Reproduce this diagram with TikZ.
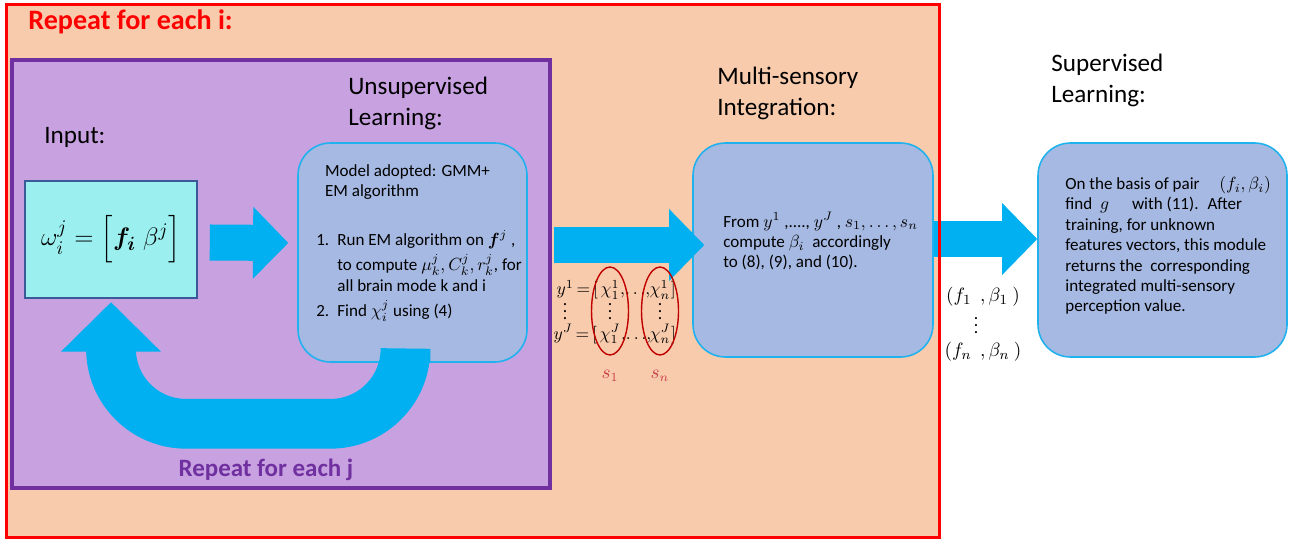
\documentclass[tikz,border=0pt]{standalone}
\usepackage{amsmath}
\usepackage{amssymb}
\usepackage{bm}
\usepackage{fontspec}
\setmainfont{Carlito}
\usepackage{tikz}
\usetikzlibrary{arrows.meta,positioning,fit,shapes.geometric}

\definecolor{peach}{HTML}{F8CBAD}
\definecolor{lilac}{HTML}{C8A1E1}
\definecolor{plum}{HTML}{7030A0}
\definecolor{boxfill}{HTML}{A6B9E2}
\definecolor{boxline}{HTML}{1FB2EE}
\definecolor{aqua}{HTML}{9BEFEF}
\definecolor{aqualine}{HTML}{3B5A98}
\definecolor{flowblue}{HTML}{00B0F0}
\definecolor{ringred}{HTML}{C00000}
\definecolor{sred}{HTML}{C83C46}

\begin{document}
\begin{tikzpicture}[x=0.02cm, y=-0.02cm,
    heading/.style={font=\fontsize{14.3}{17.6}\selectfont, align=left, inner sep=0pt, anchor=west},
    module/.style={draw=boxline, line width=0.9pt, fill=boxfill, rounded corners=0.65cm, inner sep=0pt},
    body/.style={font=\fontsize{9.7}{11.6}\selectfont, align=left, inner sep=0pt, anchor=north west},
    flow/.style={draw=flowblue, line width=20.5pt, -{Triangle[length=20pt,width=41pt,line width=0pt]}},
    loopback/.style={draw=flowblue, line width=28.3pt, rounded corners=1.5cm,
                     -{Triangle[length=28pt,width=56.7pt,line width=0pt]}},
    ring/.style={draw=ringred, line width=0.8pt},
    sname/.style={text=sred, font=\fontsize{10.5}{12}\selectfont, inner sep=0pt},
    vec/.style={font=\fontsize{10}{12}\selectfont, inner sep=0pt},
    vdot/.style={vec, text height=9.3pt, text depth=0pt}]
  \useasboundingbox (0,0) rectangle (1293,540);

  \node[fit={(7,5) (939,537)}, inner sep=0pt, fill=peach] (loopi) {};
  \node[fit={(12,60) (550,488)}, inner sep=0pt, fill=lilac, draw=plum, line width=2.6pt] (loopj) {};

  \node[fit={(25,181) (197,298)}, inner sep=0pt, fill=aqua, draw=aqualine, line width=0.9pt] (inp) {};
  \node[module, fit={(298,143) (527,362)}] (uns) {};
  \node[module, fit={(693,143) (933,357)}] (mult) {};
  \node[module, fit={(1038,143) (1287,357)}] (sup) {};

  \draw[flow] ([shift={(12,3)}]inp.east) -- ([shift={(-9,-9.5)}]uns.west);
  \draw[loopback] ([xshift=-4]uns.south) -- ++(0,61) -| ([yshift=-2]inp.south);
  \draw[flow] ([shift={(2,-29)}]loopj.east) -- ([shift={(12,-5)}]mult.west);
  \draw[flow] ([shift={(0,-11)}]mult.east) -- ([shift={(0,-11)}]sup.west);

  \node[heading, text=red, font=\bfseries\fontsize{16}{19}\selectfont] (titlei) at (28,22) {Repeat for each i:};
  \node[heading] (inlbl) at (44,137) {Input:};
  \node[heading] (unslbl) at (348,103) {Unsupervised\\Learning:};
  \node[heading] (multlbl) at (717,93) {Multi-sensory\\Integration:};
  \node[heading] (suplbl) at (1051,80) {Supervised\\Learning:};
  \node[text=plum, font=\bfseries\fontsize{14.2}{17}\selectfont] (titlej) at (266,470) {Repeat for each j};

  \node[font=\fontsize{15}{18}\selectfont] (omega) at (inp.center) {$\omega_i^j = \Big[\bm{f}_{\bm{i}}\;\beta^j\Big]$};

  \node[body] (unstxt) at (316,164) {\hspace*{5pt}Model adopted: GMM+\\
    \hspace*{5pt}EM algorithm\\[16pt]
    \makebox[12pt][l]{1.}Run EM algorithm on $\bm{f}^j$ ,\\[3pt]
    \hspace*{12pt}to compute $\mu_k^j, C_k^j, r_k^j$, for\\
    \hspace*{12pt}all brain mode k and i\\[3pt]
    \makebox[12pt][l]{2.}Find $\chi_i^j$ using (4)};
  \node[body] (multtxt) at (723,212) {From $y^1$ ,...., $y^J$ , $s_1, \dots , s_n$\\
    compute $\beta_i$ \ accordingly\\
    to (8), (9), and (10).};
  \node[body] (suptxt) at (1065,176) {On the basis of pair \hspace{0.7em} $(f_i, \beta_i)$\\
    find \ $g$ \hspace{0.9em} with (11). \ After\\
    training, for unknown\\
    features vectors, this module\\
    returns the \ corresponding\\
    integrated multi-sensory\\
    perception value.};

  \node[vec] (c11) at (610,290) {$\chi_1^1$};
  \node[vec] (cn1) at (660,290) {$\chi_n^1$};
  \node[vec, anchor=base east] (y1) at ([xshift=-1]c11.base west) {$y^1\,{=}\,[$};
  \node[vec, anchor=base west] (d1) at (c11.base east) {${,}\!\ldots\!{,}$};
  \node[vec, anchor=base west] (b1) at (cn1.base east) {$]$};
  \node[vec] (c1J) at (610,334) {$\chi_1^J$};
  \node[vec] (cnJ) at (660,334) {$\chi_n^J$};
  \node[vec, anchor=base east] (yJ) at ([xshift=-1]c1J.base west) {$y^J\,{=}\,[$};
  \node[vec, anchor=base west] (dJ) at (c1J.base east) {${,}\!\ldots\!{,}$};
  \node[vec, anchor=base west] (bJ) at (cnJ.base east) {$]$};
  \node[vdot] (vd0) at (565,311) {$\vdots$};
  \node[vdot] (vd1) at (610,311) {$\vdots$};
  \node[vdot] (vdn) at (660,311) {$\vdots$};
  \draw[ring] (vd1.center) ellipse [x radius=0.37cm, y radius=0.88cm];
  \draw[ring] (vdn.center) ellipse [x radius=0.37cm, y radius=0.88cm];
  \node[sname] (s1) at (610,376) {$s_1$};
  \node[sname] (sn) at (660,376) {$s_n$};

  \node[vec, font=\fontsize{11}{13}\selectfont] (fb1) at (983,297) {$(f_1\ \ ,\beta_1\ )$};
  \node[vdot] (fbdots) at (976,325) {$\vdots$};
  \node[vec, font=\fontsize{11}{13}\selectfont] (fbn) at (983,352) {$(f_n\ \ ,\beta_n\ )$};

  \draw[red, line width=1.7pt] (loopi.north west) rectangle (loopi.south east);
\end{tikzpicture}
\end{document}
